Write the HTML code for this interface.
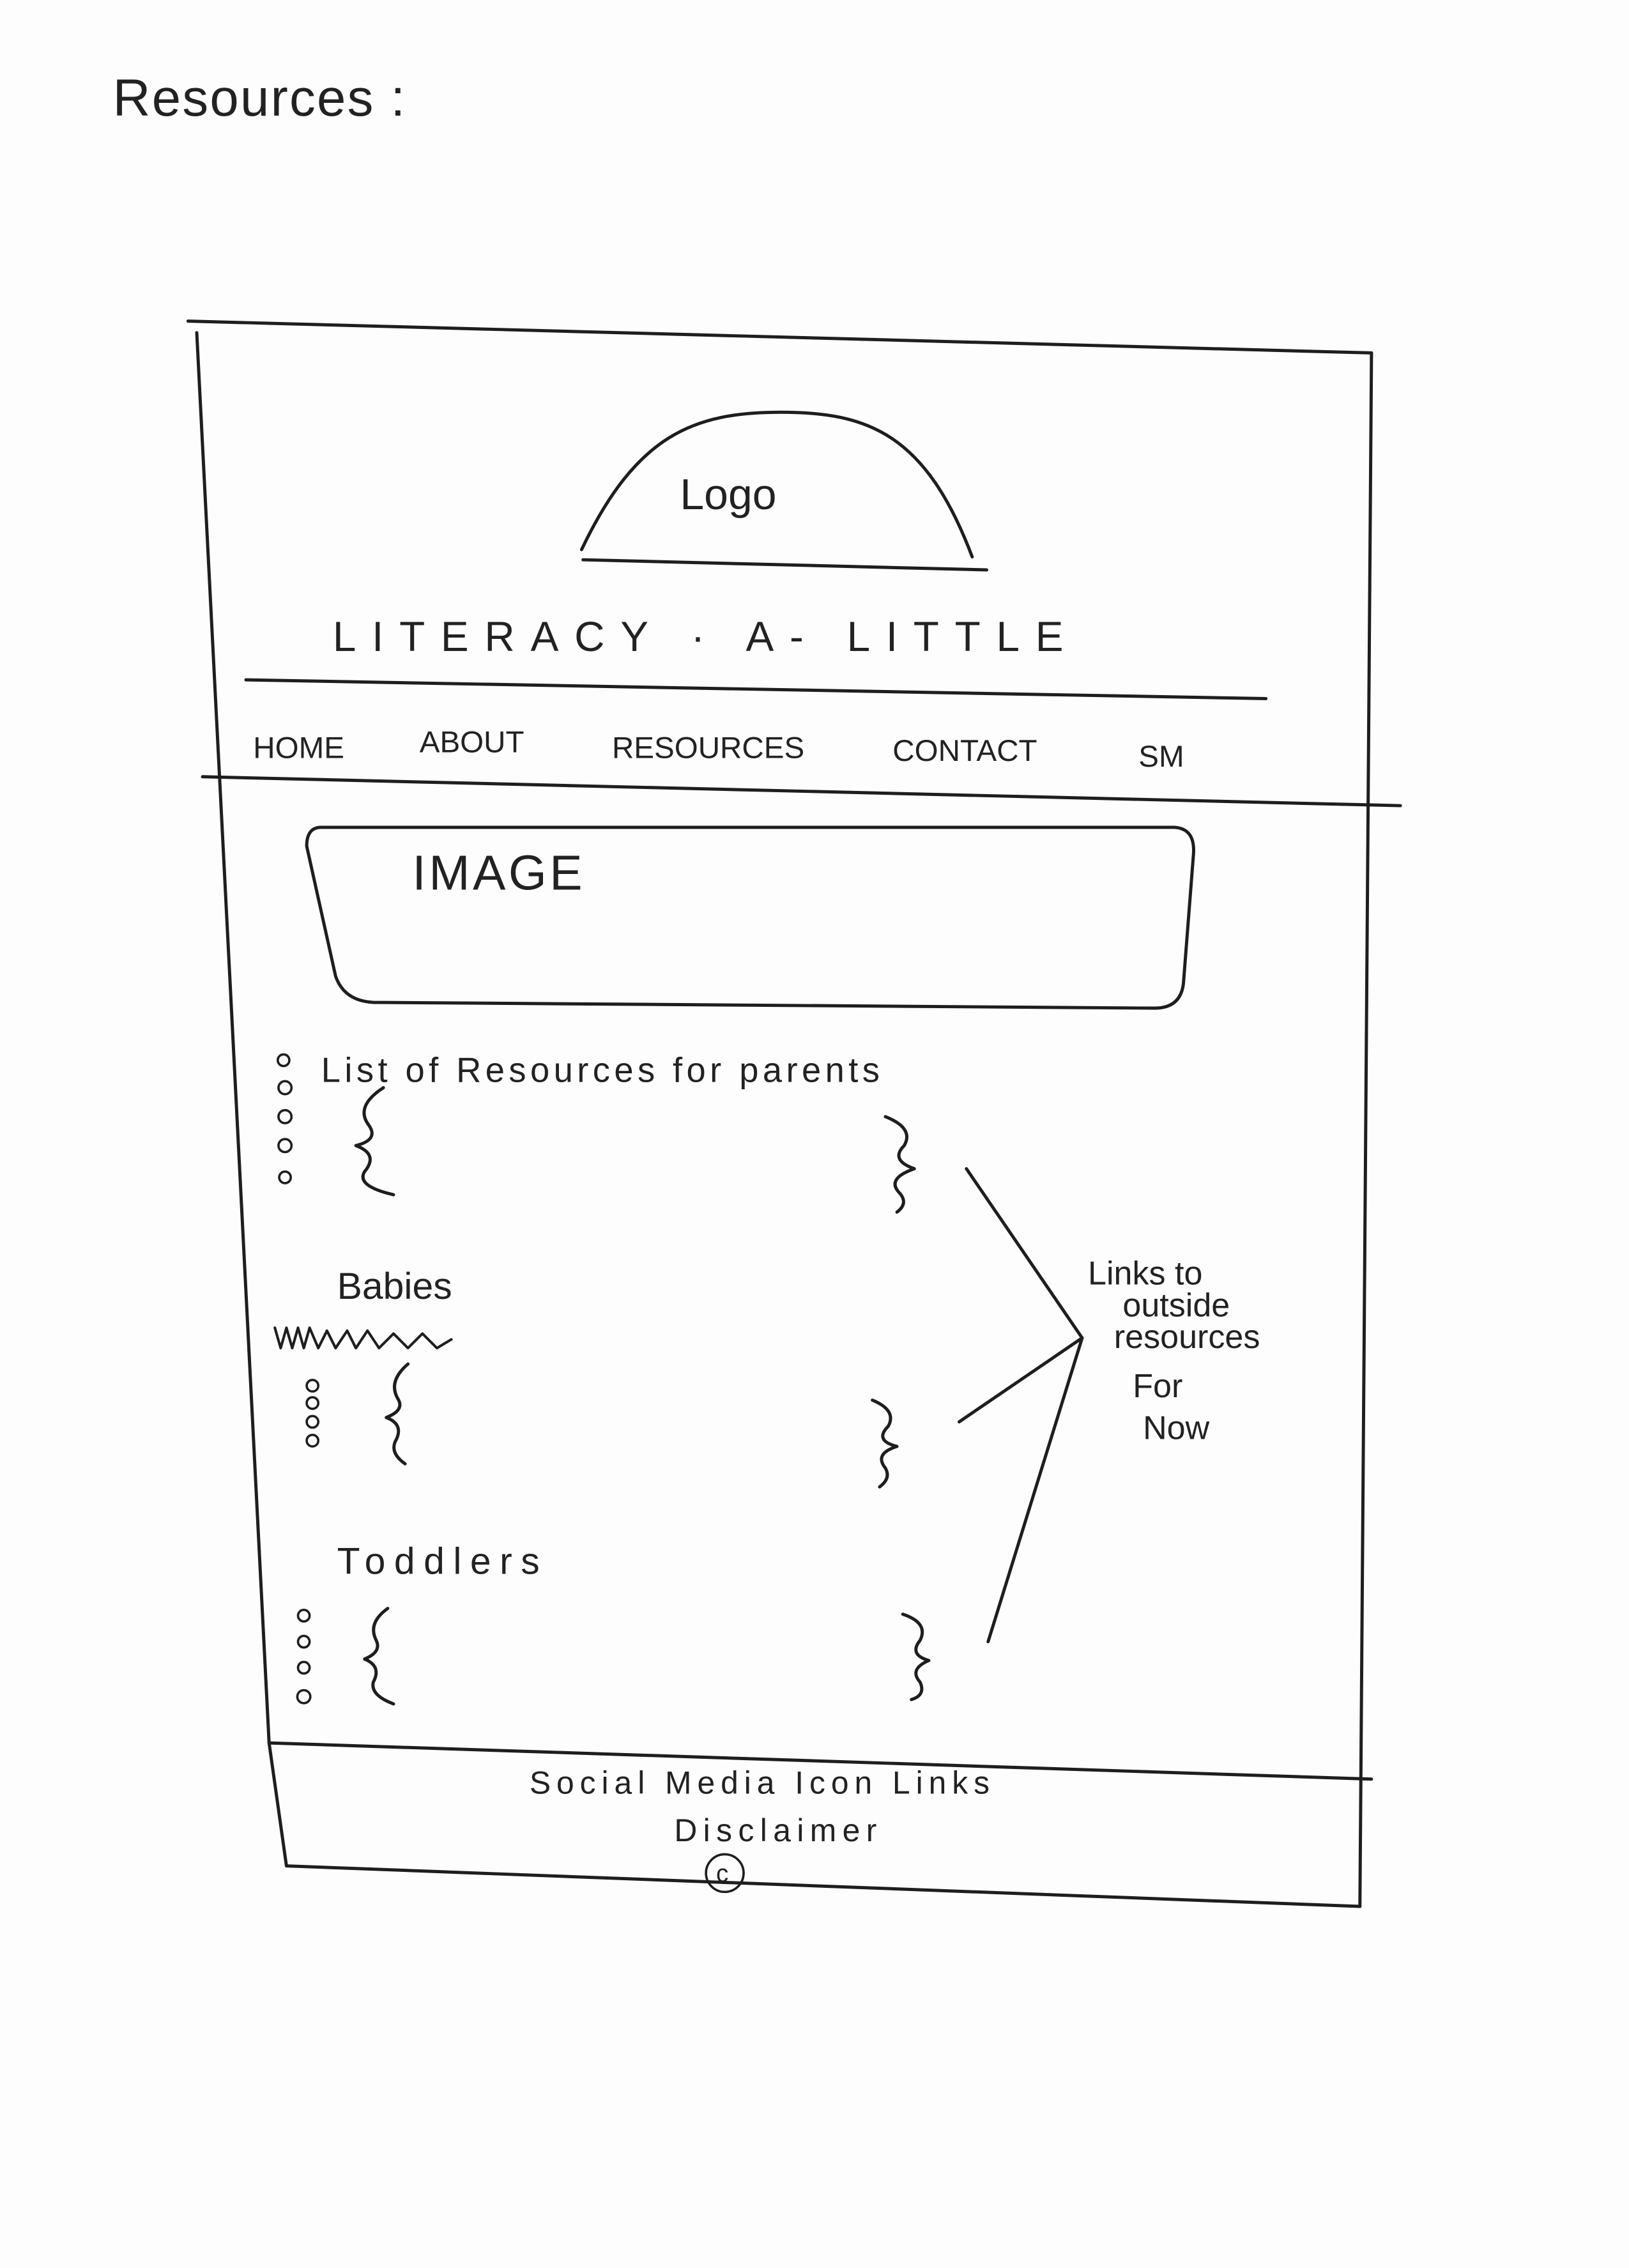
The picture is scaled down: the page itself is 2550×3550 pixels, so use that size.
<!DOCTYPE html>
<html><head><meta charset="utf-8"><style>
html,body{margin:0;padding:0;background:#fdfdfd;}
svg{display:block;}
text{font-family:"Liberation Sans",sans-serif;fill:#222;}
</style></head><body>
<svg width="2550" height="3550" viewBox="0 0 1126 1568" preserveAspectRatio="none" xmlns="http://www.w3.org/2000/svg">
<rect width="1126" height="1568" fill="#fdfdfd"/>
<g fill="none" stroke="#1e1e1e" stroke-width="2.2" stroke-linecap="round" stroke-linejoin="round">
<path d="M130 222 L948 244"/>
<path d="M136 230 L186 1205 L198 1290"/>
<path d="M948 244 L940 1318"/>
<path d="M198 1290 L940 1318"/>
<path d="M402 380 C440 300 480 285 540 285 C600 285 640 300 672 385"/>
<path d="M403 387 L682 394"/>
<path d="M170 470 L875 483"/>
<path d="M140 537 L968 557"/>
<path d="M186 1205 L948 1230"/>
<path d="M222 572 L812 572 Q826 573 825 590 L818 680 Q816 697 798 697 L258 693 Q238 692 232 675 L212 585 Q212 572 222 572 Z"/>
<g stroke-width="1.6">
<circle cx="196" cy="733" r="4"/><circle cx="197" cy="752" r="4.5"/><circle cx="197" cy="772" r="4.5"/><circle cx="197" cy="792" r="4.5"/><circle cx="197" cy="814" r="4"/>
<circle cx="216" cy="958" r="4"/><circle cx="216" cy="970" r="4"/><circle cx="216" cy="983" r="4"/><circle cx="216" cy="996" r="4"/>
<circle cx="210" cy="1117" r="4"/><circle cx="210" cy="1135" r="4"/><circle cx="210" cy="1153" r="4"/><circle cx="210" cy="1173" r="4.5"/>
<circle cx="501" cy="1295" r="13"/>
</g>
<path d="M265 752 Q245 765 255 778 Q262 788 246 792 Q262 798 252 810 Q246 820 272 826"/>
<path d="M612 772 Q632 780 625 792 Q615 802 632 808 Q612 815 622 825 Q628 832 620 838"/>
<path d="M282 943 Q268 955 275 967 Q280 975 267 980 Q280 985 273 997 Q270 1005 280 1012"/>
<path d="M603 968 Q620 975 614 986 Q604 996 620 1000 Q604 1005 612 1015 Q616 1022 608 1028"/>
<path d="M268 1112 Q254 1122 260 1134 Q264 1142 252 1147 Q264 1152 258 1163 Q256 1172 272 1178"/>
<path d="M624 1116 Q642 1122 636 1134 Q628 1144 642 1148 Q628 1154 636 1163 Q640 1172 630 1175"/>
<path d="M668 808 L748 925 L683 1135"/>
<path d="M663 983 L748 925"/>
<path d="M190 918 L194 932 L198 918 L202 932 L206 918 L210 932 L214 918 L220 932 L226 920 L232 932 L240 920 L246 932 L254 920 L262 932 L272 922 L282 932 L292 922 L302 932 L312 926" stroke-width="1.8"/>
</g>
<g font-weight="300">
<text x="78" y="80" font-size="36" letter-spacing="1">Resources :</text>
<text x="470" y="352" font-size="30">Logo</text>
<text x="230" y="450" font-size="29" textLength="505" lengthAdjust="spacing">LITERACY ·  A-  LITTLE</text>
<text x="175" y="524" font-size="21">HOME</text>
<text x="290" y="520" font-size="21">ABOUT</text>
<text x="423" y="524" font-size="21">RESOURCES</text>
<text x="617" y="526" font-size="21">CONTACT</text>
<text x="787" y="530" font-size="21">SM</text>
<text x="285" y="615" font-size="34" letter-spacing="2">IMAGE</text>
<text x="222" y="748" font-size="24" textLength="386" lengthAdjust="spacing">List of Resources for parents</text>
<text x="233" y="898" font-size="26">Babies</text>
<text x="233" y="1088" font-size="26" textLength="140" lengthAdjust="spacing">Toddlers</text>
<text x="752" y="888" font-size="23">Links to</text>
<text x="776" y="910" font-size="23">outside</text>
<text x="770" y="932" font-size="23">resources</text>
<text x="783" y="966" font-size="23">For</text>
<text x="790" y="995" font-size="23">Now</text>
<text x="366" y="1240" font-size="22" textLength="318" lengthAdjust="spacing">Social Media Icon Links</text>
<text x="466" y="1273" font-size="22" textLength="140" lengthAdjust="spacing">Disclaimer</text>
<text x="495" y="1301" font-size="17">c</text>
</g>
</svg>
</body></html>
